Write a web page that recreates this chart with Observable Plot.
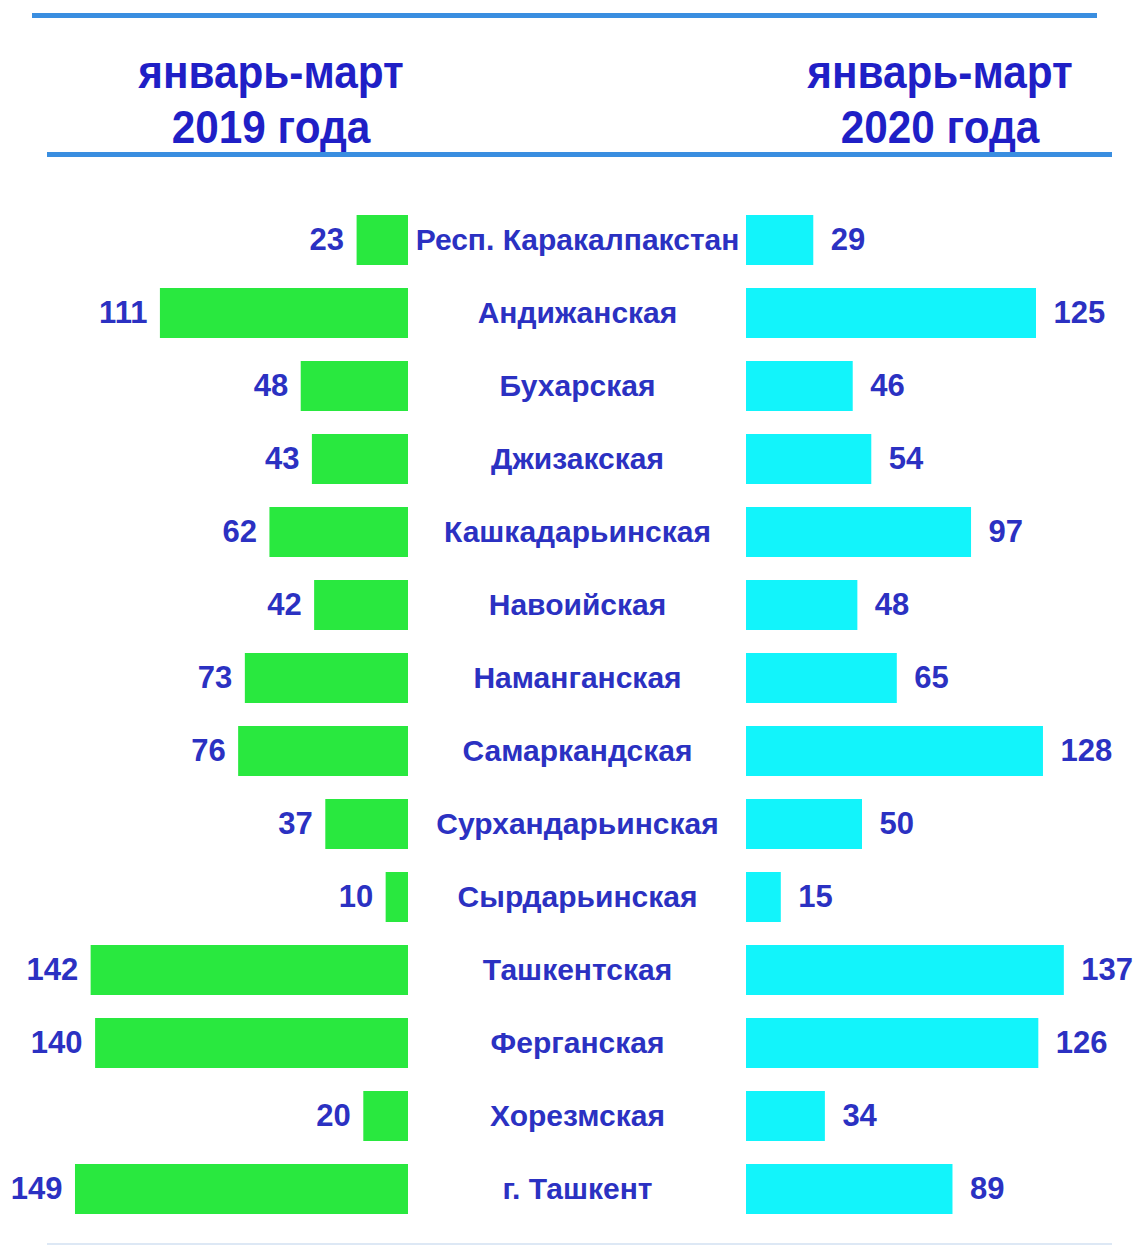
<!DOCTYPE html>
<html>
<head>
<meta charset="utf-8">
<script src="https://cdn.jsdelivr.net/npm/d3@7"></script>
<script src="https://cdn.jsdelivr.net/npm/@observablehq/plot@0.6"></script>
<style>
  html, body { margin: 0; padding: 0; background: #fff; }
  body { width: 1134px; height: 1246px; position: relative; overflow: hidden; font-family: "Liberation Sans", Arial, sans-serif; }
  #header { position: relative; width: 1134px; height: 175px; }
  .rule { position: absolute; height: 5px; background: #3a8ee0; }
  .ttl { position: absolute; width: 400px; text-align: center; color: #1f1fc6; font-weight: bold; font-size: 46px; line-height: 55px; transform: scaleX(0.92); }
  #row { display: flex; width: 1134px; height: 1071px; }
  #bottom { position: absolute; left: 47px; top: 1243px; width: 1065px; height: 2px; background: #dde8f5; }
</style>
</head>
<body>
<div id="header">
  <div class="rule" style="left:32px; top:13px; width:1065px;"></div>
  <div class="ttl" style="left:71px; top:45px;">январь-март<br>2019 года</div>
  <div class="ttl" style="left:740px; top:45px;">январь-март<br>2020 года</div>
  <div class="rule" style="left:47px; top:152px; width:1065px;"></div>
</div>
<div id="row"></div>
<div id="bottom"></div>
<script>
const regions = ["Респ. Каракалпакстан", "Андижанская", "Бухарская", "Джизакская", "Кашкадарьинская", "Навоийская", "Наманганская", "Самаркандская", "Сурхандарьинская", "Сырдарьинская", "Ташкентская", "Ферганская", "Хорезмская", "г. Ташкент"];
const v2019 = [23, 111, 48, 43, 62, 42, 73, 76, 37, 10, 142, 140, 20, 149];
const v2020 = [29, 125, 46, 54, 97, 48, 65, 128, 50, 15, 137, 126, 34, 89];

const data = regions.map((r, i) => ({region: r, a: v2019[i], b: v2020[i]}));

const H = 1071;
const labelColor = "#2b31c2";
const font = "'Liberation Sans', Arial, sans-serif";
const yScale = {type: "band", domain: regions, range: [14.6, 1064.4], padding: 0.32, axis: null};
const common = {height: H, marginTop: 0, marginBottom: 0, marginLeft: 0, marginRight: 0,
  style: {fontFamily: font, background: "transparent", overflow: "visible"}};

const left = Plot.plot({
  ...common, width: 408,
  x: {domain: [0, 100], range: [408, 184.5], axis: null},
  y: yScale,
  marks: [
    Plot.barX(data, {x1: 0, x2: "a", y: "region", fill: "#29e83f"}),
    Plot.text(data, {x: "a", y: "region", text: d => String(d.a), textAnchor: "end", dx: -13,
      fontSize: 31, fontWeight: "bold", fill: labelColor})
  ]
});

const center = Plot.plot({
  ...common, width: 338,
  y: yScale,
  marks: [
    Plot.text(data, {y: "region", text: "region", frameAnchor: "middle",
      fontSize: 30, fontWeight: "bold", fill: labelColor})
  ]
});

const right = Plot.plot({
  ...common, width: 388,
  x: {domain: [0, 100], range: [0, 232], axis: null},
  y: yScale,
  marks: [
    Plot.barX(data, {x1: 0, x2: "b", y: "region", fill: "#12f4fb"}),
    Plot.text(data, {x: "b", y: "region", text: d => String(d.b), textAnchor: "start", dx: 17,
      fontSize: 31, fontWeight: "bold", fill: labelColor})
  ]
});

const row = document.getElementById("row");
row.append(left, center, right);
</script>
</body>
</html>
